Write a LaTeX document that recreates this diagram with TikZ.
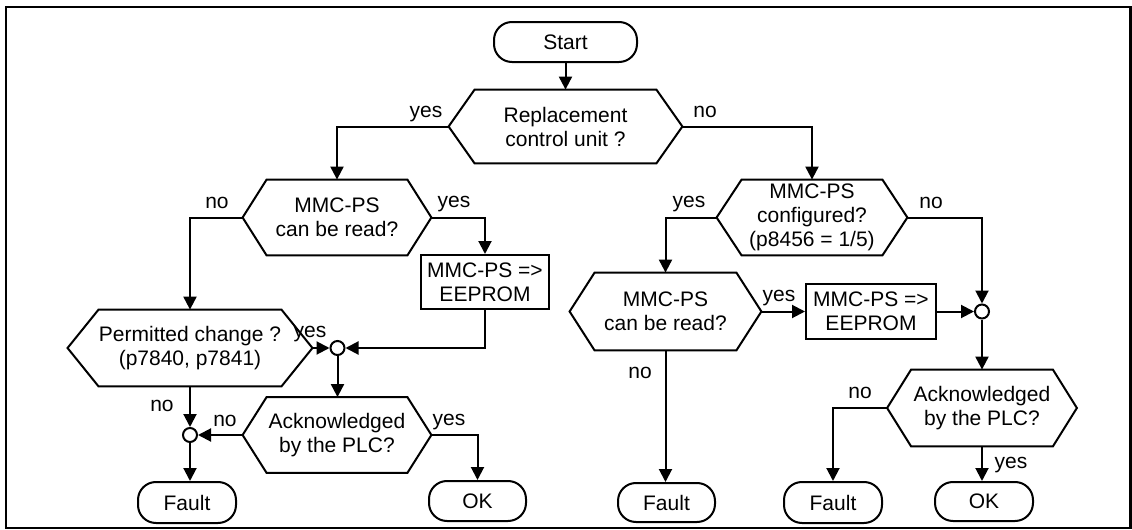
\documentclass[tikz,border=0pt]{standalone}
\usepackage{fontspec}
\setmainfont{Liberation Sans}
\usetikzlibrary{arrows.meta}
\newcommand{\hexshape}[2]{%
  \coordinate (#1-l) at ([xshift=-#2]#1.west);
  \coordinate (#1-r) at ([xshift=#2]#1.east);
  \draw[shapeline] (#1.north west) -- (#1.north east) -- (#1-r) -- (#1.south east) -- (#1.south west) -- (#1-l) -- cycle;}
\tikzset{
  txt/.style={font=\fontsize{10.5}{12}\selectfont, align=center, inner sep=0pt},
  term/.style={txt, draw, line width=1pt, rounded corners=9pt},
  proc/.style={txt, draw, line width=1pt},
  hexnode/.style={txt},
  junc/.style={circle, draw, line width=1pt, minimum size=7pt, inner sep=0pt},
  lab/.style={font=\fontsize{10.5}{12}\selectfont, inner sep=0pt, anchor=base},
  conn/.style={line width=1pt, -{Triangle[length=6.5pt,width=6.5pt]}},
  shapeline/.style={line width=1pt},
}
\begin{document}
\begin{tikzpicture}[x=0.5pt,y=-0.5pt]
\useasboundingbox (0,0) rectangle (1132,530);
\draw[line width=1.3pt] (6,7) rectangle (1130.5,528);

% nodes
\node[term, minimum width=71.5pt, minimum height=20pt] (start) at (565.5,42) {Start};
\node[hexnode, minimum width=90.5pt, minimum height=36.5pt] (repl) at (565.5,126.5) {Replacement\\control unit ?};
\hexshape{repl}{13pt}
\node[hexnode, minimum width=70pt, minimum height=37.5pt] (mmcL) at (337,217.5) {MMC-PS\\can be read?};
\hexshape{mmcL}{12pt}
\node[hexnode, minimum width=70pt, minimum height=37.5pt] (conf) at (812,217.5) {MMC-PS\\configured?\\(p8456 = 1/5)};
\hexshape{conf}{12.5pt}
\node[proc, minimum width=64pt, minimum height=27pt] (eepL) at (485,282) {MMC-PS =>\\EEPROM};
\node[hexnode, minimum width=88pt, minimum height=38pt] (perm) at (190,348) {Permitted change ?\\(p7840, p7841)};
\hexshape{perm}{15.5pt}
\node[junc] (juncL) at (337.5,348) {};
\node[hexnode, minimum width=70pt, minimum height=37.5pt] (ackL) at (337,435) {Acknowledged\\by the PLC?};
\hexshape{ackL}{12pt}
\node[junc] (juncF) at (190,435) {};
\node[term, minimum width=49pt, minimum height=20.5pt] (faultL) at (187,502.5) {Fault};
\node[term, minimum width=48.5pt, minimum height=20pt] (okL) at (477.5,501) {OK};
\node[hexnode, minimum width=70.5pt, minimum height=38.5pt] (mmcR) at (665.5,311.5) {MMC-PS\\can be read?};
\hexshape{mmcR}{12.5pt}
\node[proc, minimum width=65pt, minimum height=27.5pt] (eepR) at (871,311.5) {MMC-PS =>\\EEPROM};
\node[junc] (juncR) at (982,311.5) {};
\node[hexnode, minimum width=70.5pt, minimum height=38pt] (ackR) at (982,408) {Acknowledged\\by the PLC?};
\hexshape{ackR}{12pt}
\node[term, minimum width=48.5pt, minimum height=19.5pt] (faultM) at (666.5,502.5) {Fault};
\node[term, minimum width=49pt, minimum height=20.5pt] (faultR) at (833,502.5) {Fault};
\node[term, minimum width=49pt, minimum height=19.5pt] (okR) at (984,501.5) {OK};

% connectors
\draw[conn] (start.south) -- (start.south |- repl.north);
\draw[conn] (repl-l) -| (mmcL.north);
\draw[conn] (repl-r) -| (conf.north);
\draw[conn] (mmcL-l) -| (perm.north);
\draw[conn] (mmcL-r) -| (eepL.north);
\draw[conn] (perm-r) -- (juncL.west);
\draw[conn] (eepL.south) |- (juncL.east);
\draw[conn] (juncL.south) -- (juncL.south |- ackL.north);
\draw[conn] (perm.south) -- (juncF.north);
\draw[conn] (ackL-l) -- (juncF.east);
\draw[conn] (juncF.south) -- (juncF.south |- faultL.north);
\draw[conn] (ackL-r) -| (okL.north);
\draw[conn] (conf-l) -| (mmcR.north);
\draw[conn] (conf-r) -| (juncR.north);
\draw[conn] (mmcR-r) -- (eepR.west);
\draw[conn] (eepR.east) -- (juncR.west);
\draw[conn] (juncR.south) -- (juncR.south |- ackR.north);
\draw[conn] (mmcR.south) -- (mmcR.south |- faultM.north);
\draw[conn] (ackR-l) -| (faultR.north);
\draw[conn] (ackR.south) -- (ackR.south |- okR.north);

% labels
\node[lab] (l1) at (426,118) {yes};
\node[lab] (l2) at (705,118) {no};
\node[lab] (l3) at (217,208) {no};
\node[lab] (l4) at (454,207) {yes};
\node[lab] (l5) at (689,207) {yes};
\node[lab] (l6) at (931,208) {no};
\node[lab] (l7) at (310,337) {yes};
\node[lab] (l8) at (162,411) {no};
\node[lab] (l9) at (225,426) {no};
\node[lab] (l10) at (449,425) {yes};
\node[lab] (l11) at (779,301) {yes};
\node[lab] (l12) at (640,378) {no};
\node[lab] (l13) at (860,398) {no};
\node[lab] (l14) at (1011,468) {yes};
\end{tikzpicture}
\end{document}
